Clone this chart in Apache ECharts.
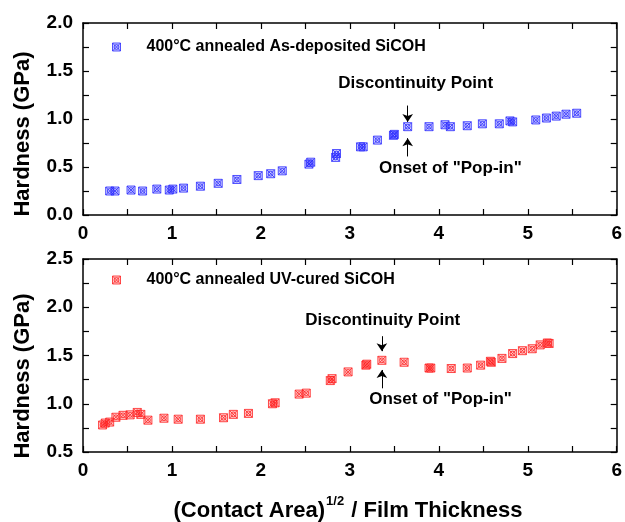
<!DOCTYPE html>
<html>
<head>
<meta charset="utf-8">
<script src="https://cdn.jsdelivr.net/npm/echarts@6/dist/echarts.min.js"></script>
<style>
  html, body { margin: 0; padding: 0; background: #fff; }
  #chart { width: 625px; height: 522px; }
</style>
</head>
<body>
<div id="chart"></div>
<script>
// as-deposited film (top panel)
const xAsDep = [0.30, 0.36, 0.54, 0.67, 0.83, 0.97, 1.01, 1.13, 1.32, 1.52, 1.73, 1.97, 2.11, 2.24, 2.54, 2.56, 2.84, 2.85,
  3.12, 3.15, 3.31, 3.49, 3.50, 3.65, 3.89, 4.07, 4.13, 4.32, 4.49, 4.68, 4.80, 4.83, 5.09, 5.21, 5.32, 5.43, 5.55];
const yAsDep = [0.25, 0.25, 0.26, 0.25, 0.27, 0.26, 0.27, 0.28, 0.30, 0.33, 0.37, 0.41, 0.43, 0.46, 0.53, 0.55, 0.60, 0.64,
  0.71, 0.71, 0.78, 0.83, 0.84, 0.92, 0.92, 0.94, 0.92, 0.93, 0.95, 0.95, 0.98, 0.97, 0.99, 1.01, 1.03, 1.05, 1.06];
// UV-cured film (bottom panel)
const xUv = [0.22, 0.25, 0.30, 0.37, 0.45, 0.53, 0.61, 0.65, 0.73, 0.91, 1.07, 1.32, 1.58, 1.69, 1.86, 2.13, 2.16, 2.43, 2.51,
  2.78, 2.80, 2.98, 3.18, 3.19, 3.36, 3.61, 3.89, 3.91, 4.14, 4.32, 4.47, 4.58, 4.59, 4.71, 4.83, 4.94, 5.05, 5.14, 5.22, 5.24];
const yUv = [0.78, 0.80, 0.81, 0.86, 0.88, 0.885, 0.91, 0.89, 0.83, 0.85, 0.84, 0.84, 0.855, 0.89, 0.90, 1.00, 1.01, 1.10, 1.11,
  1.24, 1.26, 1.33, 1.40, 1.41, 1.45, 1.43, 1.37, 1.37, 1.365, 1.37, 1.40, 1.44, 1.43, 1.47, 1.52, 1.55, 1.57, 1.61, 1.63, 1.625];

const nameAsDep = '400°C annealed As-deposited SiCOH';
const nameUv = '400°C annealed UV-cured SiCOH';

// discontinuity / pop-in positions
const popAsDep = [3.65, 0.92];
const popUv = [3.36, 1.45];

const FONT = '"Liberation Sans", Arial, sans-serif';
const SYM = 'path://M0,0H10V10H0Z M0,0L10,10 M10,0L0,10 M8,5A3,3,0,1,1,2,5A3,3,0,1,1,8,5';

const BLUE = { color: 'rgba(50,50,255,0.3)', borderColor: '#2a2aff', borderWidth: 1 };
const RED = { color: 'rgba(255,50,50,0.3)', borderColor: '#ff2020', borderWidth: 1 };

function zip(xs, ys) {
  return xs.map((x, i) => [x, ys[i]]);
}

function xAx(grid, pos, labels) {
  return {
    type: 'value', gridIndex: grid, position: pos, min: 0, max: 6, interval: 1,
    axisLine: { show: true, onZero: false, lineStyle: { color: '#000', width: 1.5 } },
    axisTick: { show: true, inside: true, length: 6, lineStyle: { color: '#000', width: 1.2 } },
    minorTick: { show: true, splitNumber: 2, length: 6, lineStyle: { color: '#000', width: 1.2 } },
    axisLabel: { show: labels, margin: 9, color: '#000', fontSize: 19, fontWeight: 'bold', fontFamily: FONT },
    splitLine: { show: false }
  };
}

function yAx(grid, pos, min, max, labels) {
  return {
    type: 'value', gridIndex: grid, position: pos, min: min, max: max, interval: 0.5,
    axisLine: { show: true, onZero: false, lineStyle: { color: '#000', width: 1.5 } },
    axisTick: { show: true, inside: true, length: 6, lineStyle: { color: '#000', width: 1.2 } },
    minorTick: { show: true, splitNumber: 2, length: 6, lineStyle: { color: '#000', width: 1.2 } },
    axisLabel: {
      show: labels, margin: 10, color: '#000', fontSize: 19, fontWeight: 'bold', fontFamily: FONT,
      formatter: v => v.toFixed(1)
    },
    splitLine: { show: false }
  };
}

function notes(pop, up, down, txtTop, txtBot) {
  const lbl = { show: true, position: 'inside', formatter: '{b}', color: '#000', fontSize: 17, fontWeight: 'bold', fontFamily: FONT };
  return {
    markLine: {
      silent: true, animation: false, symbol: ['none', 'arrow'], symbolSize: 8,
      lineStyle: { color: '#000', width: 1, type: 'solid' },
      label: { show: false },
      data: [
        [{ coord: [pop[0], down[0]] }, { coord: [pop[0], down[1]] }],
        [{ coord: [pop[0], up[0]] }, { coord: [pop[0], up[1]] }]
      ]
    },
    markPoint: {
      silent: true, animation: false, symbol: 'rect', symbolSize: 1,
      itemStyle: { color: 'rgba(0,0,0,0)', borderWidth: 0 },
      label: lbl,
      data: [
        { name: 'Discontinuity Point', coord: txtTop },
        { name: 'Onset of "Pop-in"', coord: txtBot }
      ]
    }
  };
}

function legendFor(name, top, style) {
  return {
    data: [{ name: name, itemStyle: style }], left: 107, top: top, icon: SYM, itemWidth: 8, itemHeight: 8,
    formatter: n => '{sp|}' + n,
    textStyle: {
      color: '#000', fontSize: 16, fontWeight: 'bold', fontFamily: FONT,
      rich: { sp: { width: 21 } }
    }
  };
}

// x title with a real superscript: measure the pieces and lay them out centred
const ctx = document.createElement('canvas').getContext('2d');
const mainFont = 'bold 22px ' + FONT;
const supFont = 'bold 13px ' + FONT;
ctx.font = mainFont;
const w1 = ctx.measureText('(Contact Area)').width;
const w3 = ctx.measureText(' / Film Thickness').width;
ctx.font = supFont;
const w2 = ctx.measureText('1/2').width + 2;
const tx0 = 348 - (w1 + w2 + w3) / 2;
const ty = 511;

let myChart = echarts.init(document.getElementById('chart'), null, { renderer: 'canvas' });
myChart.setOption({
  backgroundColor: '#fff',
  animation: false,
  grid: [
    { left: 83, top: 23, width: 534, height: 192 },
    { left: 83, top: 259, width: 534, height: 193 }
  ],
  legend: [legendFor(nameAsDep, 34, BLUE), legendFor(nameUv, 267, RED)],
  xAxis: [xAx(0, 'bottom', true), xAx(0, 'top', false), xAx(1, 'bottom', true), xAx(1, 'top', false)],
  yAxis: [yAx(0, 'left', 0, 2, true), yAx(0, 'right', 0, 2, false), yAx(1, 'left', 0.5, 2.5, true), yAx(1, 'right', 0.5, 2.5, false)],
  graphic: [
    {
      type: 'text', x: 23, y: 134, rotation: Math.PI / 2,
      style: { text: 'Hardness (GPa)', fill: '#000', font: mainFont, align: 'center', verticalAlign: 'middle' }
    },
    {
      type: 'text', x: 23, y: 376, rotation: Math.PI / 2,
      style: { text: 'Hardness (GPa)', fill: '#000', font: mainFont, align: 'center', verticalAlign: 'middle' }
    },
    {
      type: 'text', x: tx0, y: ty,
      style: { text: '(Contact Area)', fill: '#000', font: mainFont, align: 'left', verticalAlign: 'middle' }
    },
    {
      type: 'text', x: tx0 + w1 + 1, y: ty - 10,
      style: { text: '1/2', fill: '#000', font: supFont, align: 'left', verticalAlign: 'middle' }
    },
    {
      type: 'text', x: tx0 + w1 + w2, y: ty,
      style: { text: ' / Film Thickness', fill: '#000', font: mainFont, align: 'left', verticalAlign: 'middle' }
    }
  ],
  series: [
    Object.assign({
      name: nameAsDep, type: 'scatter', xAxisIndex: 0, yAxisIndex: 0,
      symbol: SYM, symbolSize: 8,
      itemStyle: BLUE,
      data: zip(xAsDep, yAsDep)
    }, notes(popAsDep, [0.61, 0.80], [1.14, 0.97], [3.74, 1.37], [4.13, 0.485])),
    Object.assign({
      name: nameUv, type: 'scatter', xAxisIndex: 2, yAxisIndex: 2,
      symbol: SYM, symbolSize: 8,
      itemStyle: RED,
      data: zip(xUv, yUv)
    }, notes(popUv, [1.16, 1.35], [1.70, 1.545], [3.37, 1.86], [4.02, 1.05]))
  ]
});
</script>
</body>
</html>
